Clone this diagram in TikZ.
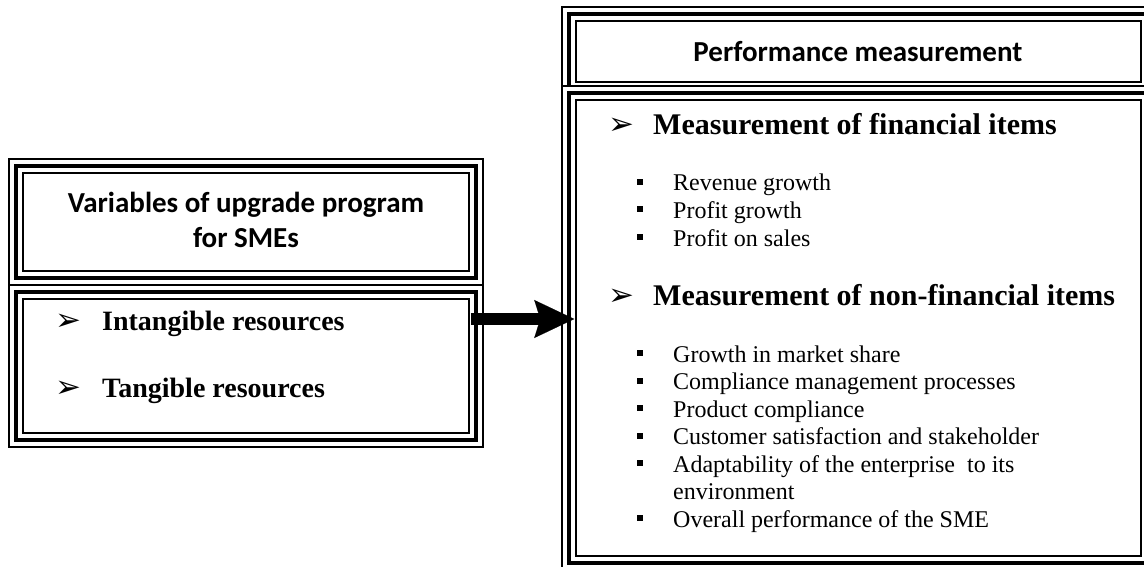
\documentclass[tikz,border=0pt]{standalone}
\usepackage{fontspec}
\setmainfont{Liberation Serif}
\newfontfamily\headfont{Carlito}
\newfontfamily\symfont{DejaVu Sans}
\usetikzlibrary{arrows.meta}

% bullets
\newcommand{\arrowbullet}{{\symfont\fontsize{31}{31}\selectfont ➢}}
\newcommand{\squarebullet}{\raisebox{6pt}{\rule{6pt}{6pt}}}

\tikzset{
  % thin-thick-thin border
  frame/.style={draw, line width=3.5pt, inner sep=0pt,
    preaction={draw, line width=1.5pt, double=white, double distance=12.5pt}},
  headtext/.style={font=\headfont\bfseries\fontsize{29}{35}\selectfont, align=center},
  bigitem/.style={anchor=base west, inner sep=0pt, font=\bfseries\fontsize{28}{32}\selectfont},
  subitem/.style={anchor=base west, inner sep=0pt, font=\fontsize{24}{27.5}\selectfont},
  bigarrow/.style={line width=12pt,
    -{Stealth[length=40pt, width=38pt, inset=6pt, line width=0.1pt]}}
}

\begin{document}
\begin{tikzpicture}[x=1pt, y=-1pt]
    \useasboundingbox (0,0) rectangle (1144,567);

    % Upgrade program
    \node[frame, minimum width=460, minimum height=112] (varhead) at (246,222) {};
    \node[frame, minimum width=460, minimum height=148] (varbody) at (246,366) {};
    \node[headtext] (vartitle) at (246,220) {Variables of upgrade program\\for SMEs};

    \node[bigitem] (intang) at (55,330) {\makebox[47pt][l]{\arrowbullet}Intangible resources};
    \node[bigitem] (tang) at (55,397) {\makebox[47pt][l]{\arrowbullet}Tangible resources};

    % Performance measurement
    \node[frame, minimum width=579, minimum height=75] (perfhead) at (858.5,51.5) {};
    \node[frame, minimum width=579, minimum height=470] (perfbody) at (858.5,328) {};
    \node[headtext] (perftitle) at (858,52) {Performance measurement};

    \node[bigitem, font=\bfseries\fontsize{30}{34}\selectfont] (fin) at (608,135)
        {\makebox[45pt][l]{\arrowbullet}Measurement of financial items};
    \foreach \y/\txt in {191/Revenue growth, 218.5/Profit growth, 246/Profit on sales}
        \node[subitem] (fin-\y) at (637,\y) {\makebox[36pt][l]{\squarebullet}\txt};

    \node[bigitem, font=\bfseries\fontsize{30}{34}\selectfont] (nonfin) at (608,305)
        {\makebox[45pt][l]{\arrowbullet}Measurement of non-financial items};
    \foreach \y/\txt in {362/Growth in market share, 389.5/Compliance management processes,
                         417/Product compliance, 444.5/Customer satisfaction and stakeholder,
                         472/Adaptability of the enterprise~ to its, 527/Overall performance of the SME}
        \node[subitem] (nonfin-\y) at (637,\y) {\makebox[36pt][l]{\squarebullet}\txt};
    \node[subitem] (nonfin-env) at (673,499.5) {environment};

    % Pfeil
    \coordinate (arrowrow) at (0,319);
    \draw[bigarrow, shorten <=-7pt, shorten >=-7pt] (varbody.east |- arrowrow) -- (perfbody.west |- arrowrow);

\end{tikzpicture}
\end{document}
